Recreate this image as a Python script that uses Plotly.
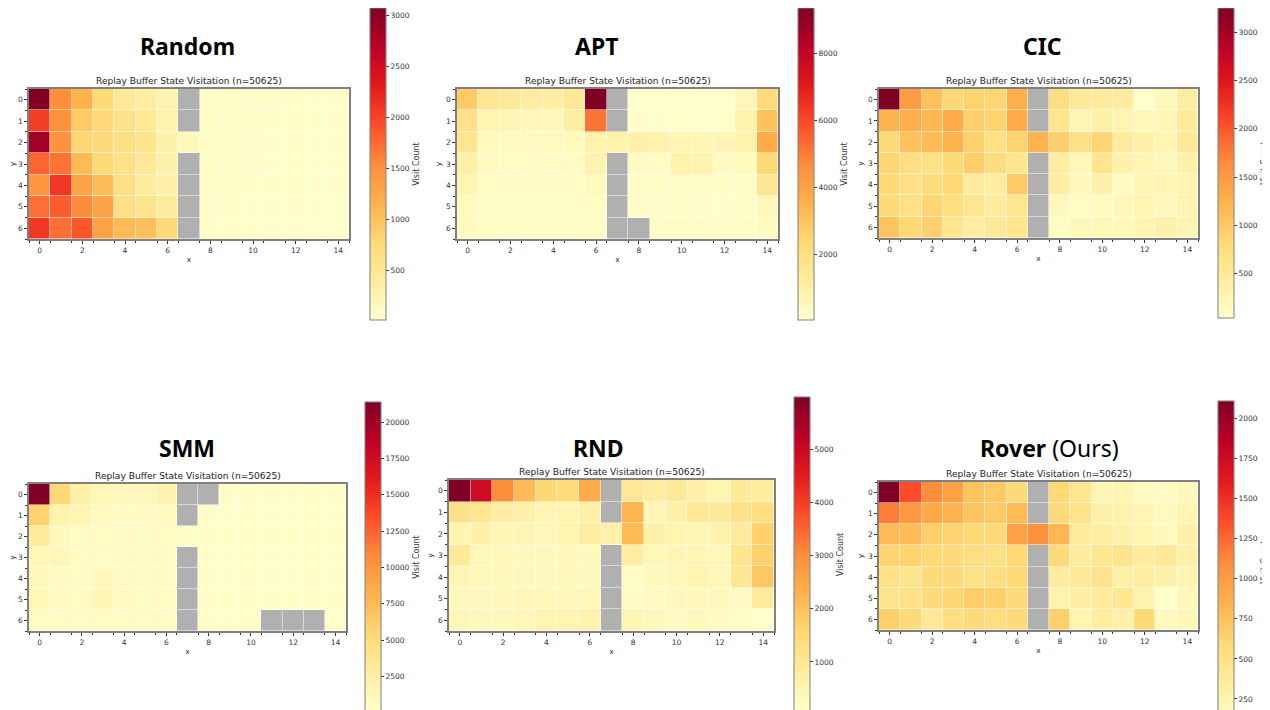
import plotly.graph_objects as go

W, H = 1270, 710
OFF = 8  # page body margin of the browser
N = None

x_cells = list(range(15))
y_cells = list(range(7))

panel_titles = ["<b>Random</b>", "<b>APT</b>", "<b>CIC</b>", "<b>SMM</b>", "<b>RND</b>", "<b>Rover</b> (Ours)"]
subtitle = "Replay Buffer State Visitation (n=50625)"
cbar_title = "Visit Count"
cbar_steps = [500, 2000, 500, 2500, 1000, 250]

random_counts = [
    [3070, 1520, 1150, 750, 470, 380, 260, N, 70, 60, 55, 50, 45, 40, 35],
    [2050, 1500, 920, 770, 600, 470, 290, N, 65, 55, 50, 45, 40, 35, 30],
    [2850, 1480, 800, 740, 650, 560, 310, 160, 75, 60, 50, 45, 40, 35, 30],
    [1780, 1700, 1080, 770, 620, 470, 310, N, 60, 55, 50, 45, 40, 35, 30],
    [1450, 2090, 1300, 1050, 620, 400, 310, N, 55, 50, 45, 40, 35, 30, 25],
    [1720, 1840, 1540, 1300, 620, 560, 430, N, 50, 45, 40, 40, 35, 30, 20],
    [2090, 1720, 1880, 1300, 1080, 1020, 770, N, 45, 40, 35, 30, 25, 20, 10],
]
apt_counts = [
    [2800, 1600, 1400, 1200, 1100, 1500, 9350, N, 90, 80, 70, 60, 60, 550, 2250],
    [1870, 750, 650, 560, 560, 1100, 5150, N, 120, 100, 90, 80, 90, 930, 3100],
    [1700, 470, 450, 450, 420, 470, 850, 930, 1000, 850, 750, 650, 650, 930, 3750],
    [1000, 370, 350, 330, 320, 330, 850, N, 300, 280, 930, 850, 380, 470, 2350],
    [750, 280, 270, 260, 250, 270, 470, N, 200, 190, 200, 190, 180, 200, 1600],
    [470, 280, 260, 250, 240, 260, 280, N, 190, 180, 180, 170, 170, 190, 560],
    [370, 280, 260, 250, 240, 250, 280, N, N, 250, 240, 230, 220, 230, 370],
]
cic_counts = [
    [3250, 1480, 1090, 840, 900, 870, 1280, N, 740, 520, 490, 460, 40, 190, 420],
    [1220, 1280, 1190, 1320, 930, 900, 1320, N, 610, 260, 350, 290, 220, 260, 490],
    [810, 1090, 1150, 1220, 930, 680, 900, 1220, 930, 680, 870, 460, 350, 290, 520],
    [870, 740, 680, 810, 960, 770, 610, N, 420, 220, 610, 350, 290, 190, 350],
    [840, 680, 770, 840, 460, 420, 1000, N, 420, 190, 350, 160, 260, 290, 290],
    [840, 680, 870, 740, 610, 460, 610, N, 190, 130, 160, 220, 290, 190, 290],
    [1060, 840, 930, 610, 420, 520, 610, N, 130, 190, 220, 190, 260, 350, 290],
]
smm_counts = [
    [21380, 5300, 2100, 1300, 1100, 1100, 1900, N, N, 300, 280, 280, 270, 260, 250],
    [5800, 1900, 1700, 850, 850, 800, 850, N, 320, 300, 290, 280, 270, 260, 250],
    [3000, 1100, 640, 640, 620, 600, 640, 330, 320, 300, 290, 280, 270, 260, 250],
    [1300, 1300, 640, 620, 600, 600, 620, N, 310, 300, 290, 280, 270, 260, 240],
    [1100, 850, 640, 1300, 640, 620, 600, N, 300, 290, 280, 270, 260, 250, 240],
    [1300, 850, 640, 1500, 850, 640, 620, N, 290, 280, 270, 260, 250, 240, 230],
    [640, 620, 600, 600, 620, 600, 600, N, 280, 270, 260, N, N, N, 60],
]
rnd_counts = [
    [5980, 4900, 3000, 2100, 1560, 1450, 2400, N, 1030, 750, 920, 640, 530, 920, 800],
    [1230, 1100, 750, 640, 470, 530, 640, N, 2230, 470, 640, 1030, 920, 1230, 1350],
    [530, 640, 470, 470, 400, 530, 750, 640, 2100, 640, 530, 470, 560, 860, 1700],
    [920, 400, 350, 350, 350, 350, 350, N, 800, 400, 470, 470, 400, 1100, 1700],
    [470, 400, 350, 330, 330, 350, 350, N, 170, 330, 400, 530, 400, 1030, 1880],
    [330, 330, 330, 400, 400, 330, 400, N, 170, 250, 330, 330, 330, 250, 860],
    [400, 330, 330, 400, 530, 530, 560, N, 470, 330, 280, 330, 280, 200, 60],
]
rover_counts = [
    [2110, 1370, 1100, 960, 740, 700, 580, N, 600, 440, 240, 260, 160, 160, 200],
    [1170, 1040, 920, 840, 740, 700, 800, N, 580, 480, 300, 280, 240, 180, 260],
    [800, 780, 660, 640, 600, 580, 960, 1080, 820, 380, 340, 300, 240, 180, 300],
    [640, 640, 600, 580, 540, 500, 600, N, 580, 360, 440, 460, 360, 400, 300],
    [500, 460, 580, 580, 500, 540, 600, N, 360, 400, 460, 300, 340, 300, 260],
    [460, 500, 580, 620, 680, 660, 580, N, 280, 320, 380, 440, 280, 100, 200],
    [660, 580, 400, 540, 580, 540, 580, N, 660, 260, 340, 300, 600, 180, 220],
]

all_counts = [random_counts, apt_counts, cic_counts, smm_counts, rnd_counts, rover_counts]

# layout (window pixels): heatmap box [x0, y0, x1, y1], colorbar [x0, ytop, ybottom], title centre, subtitle y
boxes = [
    (29, 89, 349, 239), (457, 89, 778, 239), (879, 89, 1198, 238),
    (29, 484, 346, 631), (449, 480, 774, 631), (879, 482, 1198, 630),
]
cbars = [
    (370, 8, 320), (798, 8, 320), (1218, 8, 318),
    (365, 402, 712), (794, 397, 712), (1218, 401, 723),
]
title_pos = [(187, 46), (596, 46), (1042, 46), (187, 448), (598, 448), (1049, 448)]
sub_y = [81, 81, 81, 476, 472, 474]

ylorrd = [[0.0, '#ffffcc'], [0.125, '#ffeda0'], [0.25, '#fed976'], [0.375, '#feb24c'],
          [0.5, '#fd8d3c'], [0.625, '#fc4e2a'], [0.75, '#e31a1c'], [0.875, '#bd0026'],
          [1.0, '#800026']]
wall_scale = [[0, '#b0b0b0'], [1, '#b0b0b0']]

FW, FH = W - OFF, H - OFF

def px_x(v):
    return (v - OFF) / FW

def px_y(v):
    return 1 - (v - OFF) / FH

fig = go.Figure()
layout = {}
annotations = []
tick_font = dict(family="DejaVu Sans", size=7.5, color="#333333")
GAP = 0.5

for i, counts in enumerate(all_counts):
    k = i + 1
    xa = 'x' if k == 1 else f'x{k}'
    ya = 'y' if k == 1 else f'y{k}'
    bx0, by0, bx1, by1 = boxes[i]
    cx0, cy0, cy1 = cbars[i]
    fig.add_trace(go.Heatmap(
        z=counts, x=x_cells, y=y_cells, colorscale=ylorrd, xgap=GAP, ygap=GAP,
        xaxis=xa, yaxis=ya,
        colorbar=dict(
            x=px_x(cx0), xanchor='left', xpad=0, y=px_y(cy0), yanchor='top', ypad=0,
            len=cy1 - cy0, lenmode='pixels', thickness=16, thicknessmode='pixels',
            outlinecolor='#808080', outlinewidth=1,
            tick0=0, dtick=cbar_steps[i], tickformat='d', ticks='outside', ticklen=3, tickcolor='#333',
            tickfont=dict(family="DejaVu Sans", size=7.5, color="#333333"),
            title=dict(text=cbar_title, side='right', font=dict(family="DejaVu Sans", size=8, color="#333333")),
        ),
    ))
    wall = [[1 if v is None else None for v in row] for row in counts]
    fig.add_trace(go.Heatmap(
        z=wall, x=x_cells, y=y_cells, colorscale=wall_scale, showscale=False,
        xgap=GAP, ygap=GAP, xaxis=xa, yaxis=ya, hoverinfo='skip',
    ))
    axcommon = dict(showline=True, mirror=True, linecolor='#808080', linewidth=1.5,
                    showgrid=False, zeroline=False, ticks='outside', ticklen=3,
                    tickcolor='#333', tickfont=tick_font, automargin=False)
    layout['xaxis' if k == 1 else f'xaxis{k}'] = dict(
        domain=[px_x(bx0), px_x(bx1)], anchor=ya, range=[-0.5, 14.5],
        tickmode='linear', tick0=0, dtick=2,
        minor=dict(tick0=0.5, dtick=1, ticks='outside', ticklen=2, tickcolor='#333'),
        title=dict(text='x', font=dict(family="DejaVu Sans", size=7.5, color='#333'), standoff=3),
        **axcommon)
    layout['yaxis' if k == 1 else f'yaxis{k}'] = dict(
        domain=[px_y(by1), px_y(by0)], anchor=xa, range=[6.5, -0.5],
        tickmode='linear', tick0=0, dtick=1,
        minor=dict(tick0=0.5, dtick=1, ticks='outside', ticklen=2, tickcolor='#333'),
        title=dict(text='y', font=dict(family="DejaVu Sans", size=7.5, color='#333'), standoff=3),
        **axcommon)
    tx, ty = title_pos[i]
    annotations.append(dict(text=panel_titles[i], x=px_x(tx), y=px_y(ty), xref='paper', yref='paper',
                            xanchor='center', yanchor='middle', showarrow=False,
                            font=dict(family="Noto Sans", size=23, color='black')))
    annotations.append(dict(text=subtitle, x=px_x((bx0 + bx1) / 2), y=px_y(sub_y[i]), xref='paper', yref='paper',
                            xanchor='center', yanchor='middle', showarrow=False,
                            font=dict(family="DejaVu Sans", size=9.1, color='#222')))

fig.update_layout(
    template='none',
    width=FW, height=FH, margin=dict(l=0, r=0, t=0, b=0, autoexpand=False),
    paper_bgcolor='white', plot_bgcolor='white',
    annotations=annotations, **layout,
)

fig.write_html("out.html")
